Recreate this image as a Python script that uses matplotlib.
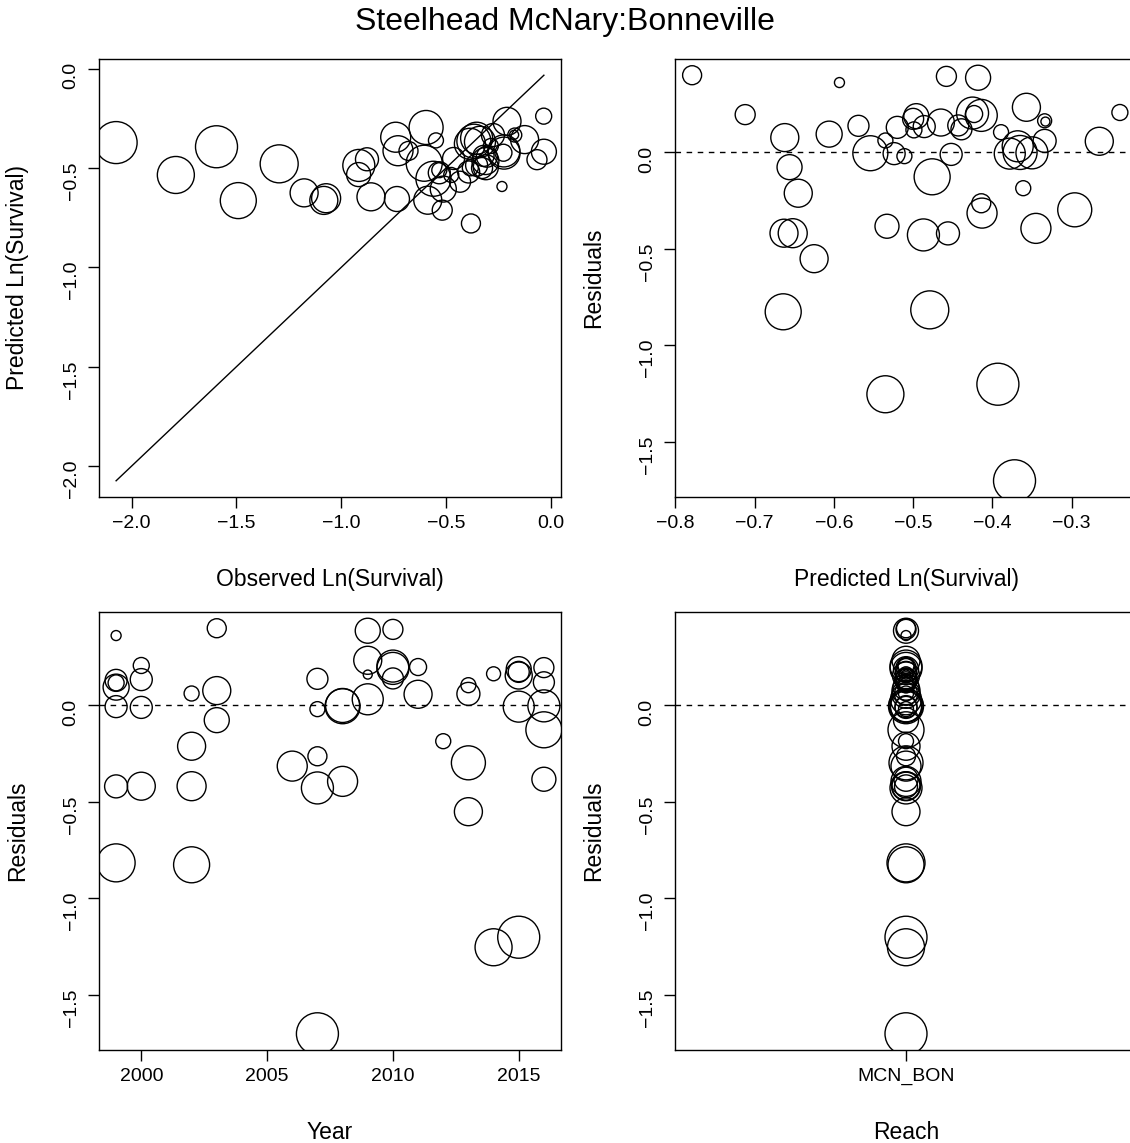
import numpy as np
import matplotlib.pyplot as plt
from matplotlib.ticker import FuncFormatter

plt.rcParams['font.family'] = ['Liberation Sans', 'DejaVu Sans']

# one entry per release group, grouped by year
year = [1999, 1999, 1999, 1999, 1999, 1999, 1999,
        2000, 2000, 2000, 2000,
        2002, 2002, 2002, 2002,
        2003, 2003, 2003,
        2006,
        2007, 2007, 2007, 2007, 2007,
        2008, 2008, 2008,
        2009, 2009, 2009, 2009,
        2010, 2010, 2010, 2010,
        2011, 2011,
        2012,
        2013, 2013, 2013, 2013,
        2014, 2014,
        2015, 2015, 2015, 2015, 2015,
        2016, 2016, 2016, 2016, 2016]
predicted = [-0.593, -0.520, -0.499, -0.606, -0.524, -0.456, -0.479,
             -0.239, -0.486, -0.452, -0.663,
             -0.535, -0.645, -0.652, -0.664,
             -0.779, -0.662, -0.656,
             -0.413,
             -0.569, -0.511, -0.414, -0.487, -0.372,
             -0.554, -0.365, -0.345,
             -0.418, -0.357, -0.333, -0.368,
             -0.458, -0.425, -0.414, -0.443,
             -0.423, -0.265,
             -0.361,
             -0.389, -0.334, -0.296, -0.625,
             -0.334, -0.535,
             -0.496, -0.500, -0.465, -0.378, -0.393,
             -0.712, -0.439, -0.350, -0.476, -0.533]
residual = [0.360, 0.128, 0.115, 0.093, -0.008, -0.421, -0.817,
            0.205, 0.132, -0.012, -0.420,
            0.060, -0.213, -0.420, -0.827,
            0.398, 0.075, -0.078,
            -0.316,
            0.136, -0.021, -0.265, -0.429, -1.702,
            -0.006, -0.002, -0.395,
            0.385, 0.232, 0.158, 0.030,
            0.392, 0.202, 0.190, 0.138,
            0.197, 0.056,
            -0.187,
            0.103, 0.058, -0.299, -0.552,
            0.162, -1.254,
            0.186, 0.172, 0.153, -0.008, -1.202,
            0.194, 0.118, -0.004, -0.128, -0.384]
weight = [10, 22, 16, 26, 22, 23, 38,
          16, 22, 22, 28,
          15, 28, 29, 36,
          19, 28, 25,
          30,
          21, 15, 19, 32, 42,
          35, 34, 30,
          25, 28, 9, 31,
          20, 32, 32, 21,
          17, 28,
          15,
          15, 23, 34, 28,
          14, 37,
          25, 21, 27, 31, 42,
          20, 21, 32, 36, 24]
reach = ['MCN_BON'] * len(year)

predicted = np.array(predicted)
residual = np.array(residual)
observed = predicted + residual
sizes = (np.array(weight) * 0.72) ** 2

W, H = 1130, 1143
fig = plt.figure(figsize=(W / 100, H / 100), dpi=100)


def make_ax(x0, y0):
    return fig.add_axes([x0 / W, 1 - (y0 + 438) / H, 462 / W, 438 / H])


def style(ax, xlab, ylab):
    for s in ax.spines.values():
        s.set_linewidth(1.0)
    ax.tick_params(direction='out', length=8, width=1.0, labelsize=14,
                   top=False, right=False)
    ax.tick_params(axis='x', pad=5)
    ax.tick_params(axis='y', pad=6, labelrotation=90)
    ax.set_xlabel(xlab, fontsize=16.5, va='center')
    ax.set_ylabel(ylab, fontsize=16.5, va='center')
    ax.xaxis.set_label_coords(0.5, -0.188)
    ax.yaxis.set_label_coords(-0.176, 0.5)


def pad(lo, hi):
    r = hi - lo
    return lo - 0.04 * r, hi + 0.04 * r


def fmt(d):
    return FuncFormatter(lambda v, p: (f"{v:.{d}f}").replace('-', '\u2212'))


def bubbles(ax, x, y):
    ax.scatter(x, y, s=sizes, facecolors='none', edgecolors='black',
               linewidths=1.0, zorder=3)


# observed vs predicted
ax1 = make_ax(99, 59)
bubbles(ax1, observed, predicted)
both = np.concatenate([observed, predicted])
lo, hi = both.min(), both.max()
ax1.plot([lo, hi], [lo, hi], color='black', lw=1.0)
ax1.set_xlim(pad(lo, hi))
ax1.set_ylim(pad(lo, hi))
ax1.set_xticks(np.arange(-2.0, 0.01, 0.5))
ax1.set_yticks(np.arange(-2.0, 0.01, 0.5))
ax1.xaxis.set_major_formatter(fmt(1))
ax1.yaxis.set_major_formatter(fmt(1))
style(ax1, 'Observed Ln(Survival)', 'Predicted Ln(Survival)')

rlim = pad(residual.min(), residual.max())
rticks = [-1.5, -1.0, -0.5, 0.0]

# residuals vs predicted
ax2 = make_ax(675, 59)
bubbles(ax2, predicted, residual)
ax2.axhline(0, color='black', lw=1.0, ls=(0, (4, 4)))
ax2.set_xlim(pad(predicted.min(), predicted.max()))
ax2.set_ylim(rlim)
ax2.set_xticks([-0.8, -0.7, -0.6, -0.5, -0.4, -0.3])
ax2.set_yticks(rticks)
ax2.xaxis.set_major_formatter(fmt(1))
ax2.yaxis.set_major_formatter(fmt(1))
style(ax2, 'Predicted Ln(Survival)', 'Residuals')

# residuals vs year
ax3 = make_ax(99, 612)
bubbles(ax3, year, residual)
ax3.axhline(0, color='black', lw=1.0, ls=(0, (4, 4)))
ax3.set_xlim(pad(min(year), max(year)))
ax3.set_ylim(rlim)
ax3.set_xticks([2000, 2005, 2010, 2015])
ax3.set_yticks(rticks)
ax3.xaxis.set_major_formatter(fmt(0))
ax3.yaxis.set_major_formatter(fmt(1))
style(ax3, 'Year', 'Residuals')

# residuals vs reach
ax4 = make_ax(675, 612)
reaches = sorted(set(reach))
rx = [reaches.index(r) + 1 for r in reach]
bubbles(ax4, rx, residual)
ax4.axhline(0, color='black', lw=1.0, ls=(0, (4, 4)))
ax4.set_xlim(0.5, len(reaches) + 0.5)
ax4.set_ylim(rlim)
ax4.set_xticks(range(1, len(reaches) + 1))
ax4.set_xticklabels(reaches)
ax4.set_yticks(rticks)
ax4.yaxis.set_major_formatter(fmt(1))
style(ax4, 'Reach', 'Residuals')

fig.text(0.5, 1 - 22 / H, 'Steelhead McNary:Bonneville', ha='center',
         va='center', fontsize=23)

fig.savefig('out.png', dpi=100)
